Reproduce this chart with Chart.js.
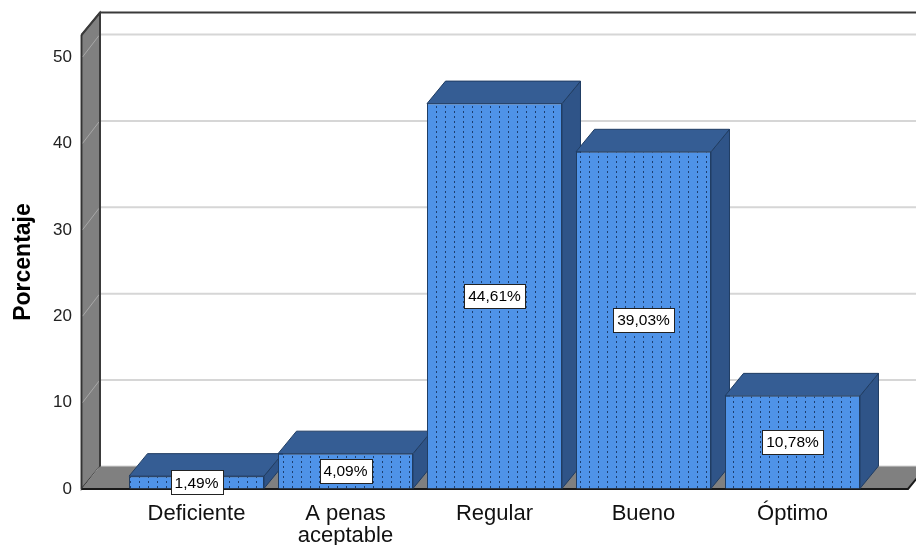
<!DOCTYPE html>
<html>
<head>
<meta charset="utf-8">
<script src="https://cdn.jsdelivr.net/npm/chart.js@4.4.0/dist/chart.umd.min.js"></script>
<style>
  body { margin: 0; background: #fff; }
  #caja { width: 916px; height: 545px; }
</style>
</head>
<body>
<div id="caja"><canvas id="grafico"></canvas></div>
<script>
const categorias = ["Deficiente", ["A penas", "aceptable"], "Regular", "Bueno", "Óptimo"];
const porcentajes = [1.49, 4.09, 44.61, 39.03, 10.78];
const marcasY = [0, 10, 20, 30, 40, 50];

// profundidad del efecto 3D
const DX = 18.5;
const DY = -22.5;
const FUENTE = "'Liberation Sans', Arial, sans-serif";

function patronPuntos(ctx) {
  const c = document.createElement("canvas");
  c.width = 9;
  c.height = 5;
  const p = c.getContext("2d");
  p.fillStyle = "#4f93e8";
  p.fillRect(0, 0, 9, 5);
  p.fillStyle = "#1d3f70";
  p.fillRect(4, 1, 1, 2);
  return ctx.createPattern(c, "repeat");
}

function poligono(ctx, pts, relleno, borde, ancho) {
  ctx.beginPath();
  ctx.moveTo(pts[0][0], pts[0][1]);
  for (let i = 1; i < pts.length; i++) ctx.lineTo(pts[i][0], pts[i][1]);
  ctx.closePath();
  if (relleno) {
    ctx.fillStyle = relleno;
    ctx.fill();
  }
  if (borde) {
    ctx.strokeStyle = borde;
    ctx.lineWidth = ancho || 1;
    ctx.stroke();
  }
}

// paredes, suelo y caras superiores/laterales de las barras
const fondo3D = {
  id: "fondo3D",
  beforeDatasetsDraw(chart) {
    const ctx = chart.ctx;
    const a = chart.chartArea;
    const y = chart.scales.y;
    const izq = a.left - 40.5;
    const der = a.right + 41;
    const sup = y.getPixelForValue(y.max);
    const inf = a.bottom;
    ctx.save();

    // pared del fondo
    poligono(ctx, [[izq + DX, sup + DY], [chart.width + 20, sup + DY], [chart.width + 20, inf + DY], [izq + DX, inf + DY]], "#ffffff");

    // pared izquierda
    poligono(ctx, [[izq, inf], [izq, sup], [izq + DX, sup + DY], [izq + DX, inf + DY]], "#808080", "#333333", 1.5);

    // lineas de cuadricula
    y.ticks.forEach((t) => {
      const py = y.getPixelForValue(t.value);
      ctx.strokeStyle = "#d6d6d6";
      ctx.lineWidth = 2;
      ctx.beginPath();
      ctx.moveTo(izq + DX + 1, py + DY);
      ctx.lineTo(chart.width, py + DY);
      ctx.stroke();
      ctx.strokeStyle = "#a8a8a8";
      ctx.lineWidth = 1;
      ctx.beginPath();
      ctx.moveTo(izq + 1, py);
      ctx.lineTo(izq + DX - 1, py + DY + 1);
      ctx.stroke();
    });

    // borde superior del fondo
    ctx.strokeStyle = "#3a3a3a";
    ctx.lineWidth = 2;
    ctx.beginPath();
    ctx.moveTo(izq, sup);
    ctx.lineTo(izq + DX, sup + DY);
    ctx.lineTo(chart.width, sup + DY);
    ctx.stroke();
    ctx.beginPath();
    ctx.moveTo(izq + DX, sup + DY);
    ctx.lineTo(izq + DX, inf + DY);
    ctx.stroke();

    // suelo
    poligono(ctx, [[izq, inf], [der, inf], [der + DX, inf + DY], [izq + DX, inf + DY]], "#808080");
    ctx.strokeStyle = "#1a1a1a";
    ctx.lineWidth = 2;
    ctx.beginPath();
    ctx.moveTo(izq, inf);
    ctx.lineTo(der, inf);
    ctx.lineTo(der + DX, inf + DY);
    ctx.stroke();
    ctx.strokeStyle = "#333333";
    ctx.lineWidth = 1.5;
    ctx.beginPath();
    ctx.moveTo(izq, sup);
    ctx.lineTo(izq, inf);
    ctx.stroke();

    // caras 3D de las barras
    chart.getDatasetMeta(0).data.forEach((b) => {
      const l = b.x - b.width / 2;
      const r = b.x + b.width / 2;
      poligono(ctx, [[r, b.y], [r + DX, b.y + DY], [r + DX, b.base + DY], [r, b.base]], "#2f5488", "#203d63", 1);
      poligono(ctx, [[l, b.y], [r, b.y], [r + DX, b.y + DY], [l + DX, b.y + DY]], "#355d94", "#203d63", 1);
    });
    ctx.restore();
  },
  afterDatasetsDraw(chart) {
    const ctx = chart.ctx;
    ctx.save();
    ctx.font = "15.5px " + FUENTE;
    ctx.textAlign = "center";
    ctx.textBaseline = "middle";
    chart.getDatasetMeta(0).data.forEach((b, i) => {
      const txt = porcentajes[i].toFixed(2).replace(".", ",") + "%";
      const w = Math.round(ctx.measureText(txt).width + 8);
      const h = 24;
      const cy = (b.y + b.base) / 2;
      const bx = Math.round(b.x - w / 2) + 0.5;
      const by = Math.round(cy - h / 2) + 0.5;
      ctx.fillStyle = "#ffffff";
      ctx.fillRect(bx, by, w, h);
      ctx.strokeStyle = "#222222";
      ctx.lineWidth = 1;
      ctx.strokeRect(bx, by, w, h);
      ctx.fillStyle = "#000000";
      ctx.fillText(txt, b.x, cy + 1);
    });
    ctx.restore();
  },
};

const ctx = document.getElementById("grafico").getContext("2d");
new Chart(ctx, {
  type: "bar",
  data: {
    labels: categorias,
    datasets: [
      {
        label: "Porcentaje",
        data: porcentajes,
        backgroundColor: patronPuntos(ctx),
        borderColor: "#203d63",
        borderWidth: 1,
        barPercentage: 0.906,
        categoryPercentage: 1,
      },
    ],
  },
  options: {
    responsive: true,
    maintainAspectRatio: false,
    animation: false,
    layout: { padding: { top: 35, right: 49, left: 0, bottom: 0 } },
    plugins: { legend: { display: false }, tooltip: { enabled: false } },
    scales: {
      x: {
        grid: { display: false, drawTicks: false },
        border: { display: false },
        ticks: {
          color: "#111111",
          padding: 14,
          maxRotation: 0,
          autoSkip: false,
          font: { family: FUENTE, size: 22, lineHeight: 1.0 },
        },
        afterFit(scale) {
          scale.height = 56;
        },
      },
      y: {
        min: 0,
        max: 52.55,
        // marcas invisibles: solo sirven para separar los numeros de la pared
        grid: { display: true, drawOnChartArea: false, drawTicks: true, tickLength: 50, color: "rgba(0,0,0,0)" },
        border: { display: false },
        afterBuildTicks(scale) {
          scale.ticks = marcasY.map((v) => ({ value: v }));
        },
        afterFit(scale) {
          scale.width = 122;
        },
        ticks: {
          color: "#222222",
          padding: 0,
          font: { family: FUENTE, size: 17 },
        },
        title: {
          display: true,
          text: "Porcentaje",
          color: "#000000",
          padding: { top: 10 },
          font: { family: FUENTE, size: 23, weight: "bold" },
        },
      },
    },
  },
  plugins: [fondo3D],
});
</script>
</body>
</html>
